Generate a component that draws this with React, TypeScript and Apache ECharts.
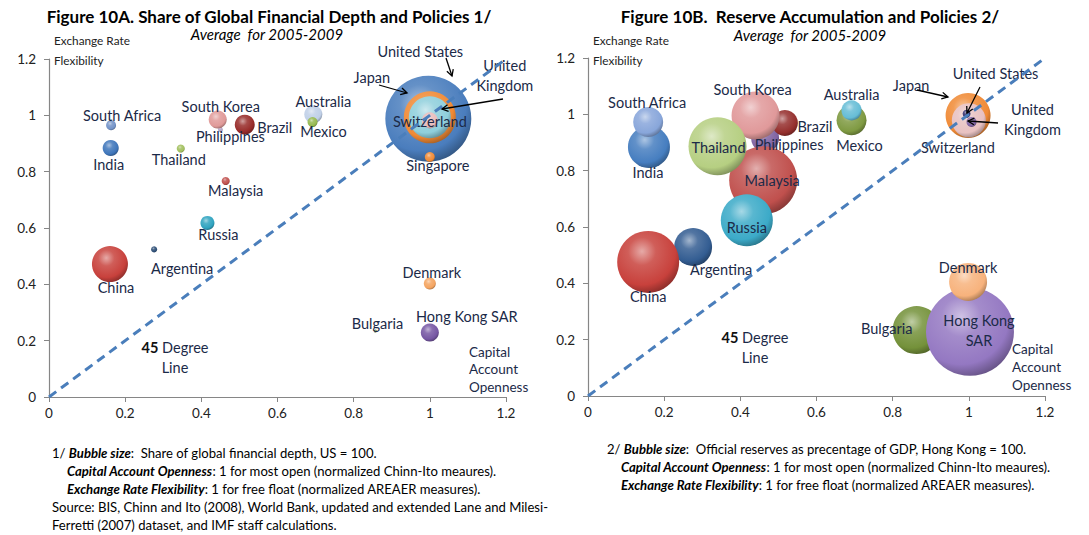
import React, { useEffect, useRef } from "react";
import * as echarts from "echarts";

// ---------- Figure 10A data ----------
const countriesA = ["United States", "Japan", "United Kingdom", "Switzerland", "Singapore", "South Africa", "India", "Thailand", "Philippines", "South Korea", "Brazil", "Malaysia", "Australia", "Mexico", "Russia", "Argentina", "China", "Denmark", "Bulgaria", "Hong Kong SAR"];
const opennessA = [0.996, 1.0, 1.0, 1.0, 1.0, 0.163, 0.162, 0.346, 0.45, 0.443, 0.514, 0.464, 0.694, 0.692, 0.416, 0.276, 0.16, 1.0, 0.857, 1.0];
const flexibilityA = [0.988, 0.993, 0.993, 0.982, 0.852, 0.965, 0.884, 0.882, 0.95, 0.985, 0.967, 0.767, 1.004, 0.976, 0.618, 0.524, 0.472, 0.403, 0.234, 0.229];
const depthA = [100, 36.6, 23.9, 3.5, 1.35, 1.35, 3.5, 0.87, 0.3, 4.4, 5.4, 0.87, 4.4, 1.35, 2.65, 0.5, 17.5, 1.95, 0.12, 4.4];

// ---------- Figure 10B data ----------
const countriesB = ["India", "South Africa", "Philippines", "Brazil", "South Korea", "Malaysia", "Thailand", "Russia", "Argentina", "China", "Mexico", "Australia", "Japan", "Switzerland", "United States", "United Kingdom", "Bulgaria", "Hong Kong SAR", "Denmark"];
const opennessB = [0.16, 0.158, 0.465, 0.517, 0.44, 0.46, 0.34, 0.417, 0.276, 0.158, 0.692, 0.692, 0.998, 1.0, 0.994, 1.007, 0.863, 1.003, 0.998];
const flexibilityB = [0.884, 0.973, 0.915, 0.969, 0.996, 0.766, 0.887, 0.624, 0.529, 0.476, 0.979, 1.014, 0.996, 0.979, 1.002, 0.973, 0.234, 0.228, 0.405];
const reservesB = [22.8, 11.6, 10.1, 8.7, 29.8, 59.7, 43.4, 34.9, 18.6, 49.6, 11.6, 5.2, 26.1, 14.9, 0.8, 1.3, 29.8, 100, 18.6];

const axisTicks = [0, 0.2, 0.4, 0.6, 0.8, 1, 1.2];
const diagonal = [[0, 0], [1.2, 1.2]];

// ---------- styles ----------
const colorsA: Record<string, string> = {
  "United States": "#4a7dbd", Japan: "#f08a36", "United Kingdom": "#8fcfdc", Switzerland: "#e8bcbc",
  Singapore: "#f08a36", "South Africa": "#7393c8", India: "#3f76bb", Thailand: "#a2c05e",
  Philippines: "#b3a2c7", "South Korea": "#e09a99", Brazil: "#982b29", Malaysia: "#c0504d",
  Australia: "#c0d0e8", Mexico: "#95b84f", Russia: "#2fa3c0", Argentina: "#2c4d75",
  China: "#c8413c", Denmark: "#f4a460", Bulgaria: "#77933c", "Hong Kong SAR": "#7657a3",
};
const colorsB: Record<string, string> = {
  India: "#467ec0", "South Africa": "#88a6da", Philippines: "#8064a2", Brazil: "#952f2d",
  "South Korea": "#e0999a", Malaysia: "#c0504d", Thailand: "#b6cf82", Russia: "#3caac8",
  Argentina: "#335d92", China: "#c8413c", Mexico: "#7f9a42", Australia: "#66bdd6",
  Japan: "#f08a36", Switzerland: "#e8c1c1", "United States": "#35306e", "United Kingdom": "#8064a2",
  Bulgaria: "#74913a", "Hong Kong SAR": "#9478c2", Denmark: "#f7b27c",
};
const labelOffsetA: Record<string, [number, number]> = {
  "United States": [-8, -67], Japan: [-58, -40], "United Kingdom": [75, -42], Switzerland: [0, 1],
  Singapore: [8, 8], "South Africa": [11, -10], India: [-2, 16], Thailand: [-2, 11],
  Philippines: [10, 7], "South Korea": [3, -13], Brazil: [30, 3], Malaysia: [10, 10],
  Australia: [10, -13], Mexico: [11, 9], Russia: [11, 12], Argentina: [28, 19],
  China: [6, 23], Denmark: [2, -11], Bulgaria: [2, -8], "Hong Kong SAR": [37, -16],
};
const labelOffsetB: Record<string, [number, number]> = {
  India: [-1, 25], "South Africa": [-1, -19], Philippines: [24, 6], Brazil: [30, 3],
  "South Korea": [-3, -26], Malaysia: [9, 0], Thailand: [1, 1], Russia: [0, 7],
  Argentina: [28, 23], China: [0, 35], Mexico: [8, 25], Australia: [0, -16],
  Japan: [-57, -30], Switzerland: [-11, 27], "United States": [29, -40], "United Kingdom": [61, -2],
  Bulgaria: [-30, -2], "Hong Kong SAR": [9, -1], Denmark: [0, -14],
};
const labelTextA: Record<string, string> = { "United Kingdom": "United\nKingdom" };
const labelTextB: Record<string, string> = { "United Kingdom": "United\nKingdom", "Hong Kong SAR": "Hong Kong\nSAR" };

const FONT = 'Lato, "Open Sans", sans-serif';
const LABEL_COLOR = "#1b2a48";

function mix(hex: string, other: string, t: number) {
  const a = parseInt(hex.slice(1), 16);
  const b = parseInt(other.slice(1), 16);
  const ch = (v: number, s: number) => (v >> s) & 255;
  const c = [16, 8, 0].map((s) => Math.round(ch(a, s) * (1 - t) + ch(b, s) * t));
  return "#" + c.map((v) => v.toString(16).padStart(2, "0")).join("");
}
function ball(hex: string) {
  return {
    type: "radial", x: 0.4, y: 0.33, r: 0.75,
    colorStops: [
      { offset: 0, color: mix(hex, "#ffffff", 0.55) },
      { offset: 0.3, color: mix(hex, "#ffffff", 0.15) },
      { offset: 0.72, color: hex },
      { offset: 1, color: mix(hex, "#000000", 0.4) },
    ],
  };
}

function buildData(names: string[], xs: number[], ys: number[], ss: number[], colors: Record<string, string>, offs: Record<string, [number, number]>, texts: Record<string, string>) {
  return names.map((n, i) => ({
    name: n,
    value: [xs[i], ys[i], ss[i]],
    itemStyle: { color: ball(colors[n]), opacity: 1 },
    label: {
      show: true, position: "inside", offset: offs[n], formatter: texts[n] || n,
      color: LABEL_COLOR, fontSize: 14.5, fontFamily: FONT, lineHeight: 20,
      textBorderWidth: 0, opacity: 1,
    },
  }));
}

function arrow(x1: number, y1: number, x2: number, y2: number) {
  const a = Math.atan2(y2 - y1, x2 - x1);
  const L = 7, w = 0.5;
  const p1 = [x2 - L * Math.cos(a - w), y2 - L * Math.sin(a - w)];
  const p2 = [x2 - L * Math.cos(a + w), y2 - L * Math.sin(a + w)];
  return [
    { type: "line", z: 100, shape: { x1, y1, x2, y2 }, style: { stroke: "#000", lineWidth: 1.3 } },
    { type: "polyline", z: 100, shape: { points: [p1, [x2, y2], p2] }, style: { stroke: "#000", lineWidth: 1.3, fill: null } },
  ];
}

function txt(x: number, y: number, text: string, opts: any = {}) {
  return {
    type: "text", x, y, z: 100,
    style: {
      text, fill: opts.fill || LABEL_COLOR, font: opts.font || `14.5px ${FONT}`,
      align: opts.align || "left", verticalAlign: "middle", lineHeight: opts.lineHeight || 18,
      rich: opts.rich,
    },
  };
}

const FOOT = 13.1;
const footRich = {
  n: { font: `${FOOT}px ${FONT}`, fill: "#000" },
  bi: { font: `italic bold ${FOOT}px ${FONT}`, fill: "#000" },
};

function axisPair(gridIndex: number) {
  const common = {
    gridIndex, type: "value", min: 0, max: 1.2, interval: 0.2,
    axisLine: { show: true, lineStyle: { color: "#868686", width: 1.2 } },
    axisTick: { show: true, length: 5, lineStyle: { color: "#868686" } },
    splitLine: { show: false },
    axisLabel: { color: "#222", fontSize: 13.5, fontFamily: FONT, formatter: (v: number) => String(axisTicks.find((t) => Math.abs(t - v) < 1e-6) ?? v) },
  };
  return {
    x: { ...common, axisLabel: { ...common.axisLabel, margin: 9 } },
    y: { ...common, axisLabel: { ...common.axisLabel, margin: 13 } },
  };
}

export default function App() {
  const ref = useRef<HTMLDivElement>(null);
  useEffect(() => {
    document.body.style.margin = "0";
    const chart = echarts.init(ref.current!, null, { renderer: "svg" });
    const a0 = axisPair(0), a1 = axisPair(1);
    const RA = 43, RB = 44;
    chart.setOption({
      animation: false,
      textStyle: { fontFamily: FONT },
      grid: [
        { left: 49, top: 59, width: 457, height: 338 },
        { left: 588, top: 58, width: 457, height: 338 },
      ],
      xAxis: [a0.x, a1.x],
      yAxis: [a0.y, a1.y],
      series: [
        {
          type: "scatter", xAxisIndex: 0, yAxisIndex: 0, z: 2,
          symbolSize: (v: number[]) => 2 * RA * Math.sqrt(v[2] / 100),
          data: buildData(countriesA, opennessA, flexibilityA, depthA, colorsA, labelOffsetA, labelTextA),
        },
        {
          type: "line", xAxisIndex: 0, yAxisIndex: 0, z: 3, symbol: "none", data: diagonal,
          lineStyle: { color: "#4a7ebb", width: 3, type: [9, 6] },
        },
        {
          type: "scatter", xAxisIndex: 1, yAxisIndex: 1, z: 2,
          symbolSize: (v: number[]) => 2 * RB * Math.sqrt(v[2] / 100),
          data: buildData(countriesB, opennessB, flexibilityB, reservesB, colorsB, labelOffsetB, labelTextB),
        },
        {
          type: "line", xAxisIndex: 1, yAxisIndex: 1, z: 3, symbol: "none", data: diagonal,
          lineStyle: { color: "#4a7ebb", width: 3, type: [9, 6] },
        },
      ],
      graphic: [
        txt(269, 16, "Figure 10A. Share of Global Financial Depth and Policies 1/", { font: `bold 17px ${FONT}`, fill: "#000", align: "center" }),
        txt(267, 34, "Average  for 2005-2009", { font: `italic 15px ${FONT}`, fill: "#000", align: "center" }),
        txt(810, 16, "Figure 10B.  Reserve Accumulation and Policies 2/", { font: `bold 17px ${FONT}`, fill: "#000", align: "center" }),
        txt(810, 35, "Average  for 2005-2009", { font: `italic 15px ${FONT}`, fill: "#000", align: "center" }),
        // axis titles and notes, chart A
        txt(54, 50, "Exchange Rate\nFlexibility", { font: `11.8px ${FONT}`, fill: "#222", lineHeight: 20 }),
        txt(469, 369, "Capital\nAccount\nOpenness", { font: `13.5px ${FONT}`, lineHeight: 17.5 }),
        txt(175, 357, "{b|45} Degree\nLine", { align: "center", lineHeight: 20, rich: { b: { font: `bold 14.5px ${FONT}`, fill: "#111" } } }),
        // chart B
        txt(593, 50, "Exchange Rate\nFlexibility", { font: `11.8px ${FONT}`, fill: "#222", lineHeight: 20 }),
        txt(1012, 367, "Capital\nAccount\nOpenness", { font: `13.5px ${FONT}`, lineHeight: 18 }),
        txt(755, 347, "{b|45} Degree\nLine", { align: "center", lineHeight: 20, rich: { b: { font: `bold 14.5px ${FONT}`, fill: "#111" } } }),
        // arrows
        ...arrow(446, 58, 452, 76),
        ...arrow(379, 85, 407, 93),
        ...arrow(503, 99, 442, 109),
        ...arrow(917, 90, 948, 97),
        ...arrow(980, 87, 967, 113),
        ...arrow(998, 123, 968, 121),
        // footnotes
        txt(52, 453, "{n|1/ }{bi|Bubble size}{n|:  Share of global financial depth, US = 100.}", { rich: footRich }),
        txt(67, 471, "{bi|Capital Account Openness}{n|: 1 for most open (normalized Chinn-Ito meaures).}", { rich: footRich }),
        txt(67, 489, "{bi|Exchange Rate Flexibility}{n|: 1 for free float (normalized AREAER measures).}", { rich: footRich }),
        txt(52, 507, "Source: BIS, Chinn and Ito (2008), World Bank, updated and extended Lane and Milesi-", { font: `${FOOT}px ${FONT}`, fill: "#000" }),
        txt(52, 525, "Ferretti (2007) dataset, and IMF staff calculations.", { font: `${FOOT}px ${FONT}`, fill: "#000" }),
        txt(607, 449, "{n|2/ }{bi|Bubble size}{n|:  Official reserves as precentage of GDP, Hong Kong = 100.}", { rich: footRich }),
        txt(621, 467, "{bi|Capital Account Openness}{n|: 1 for most open (normalized Chinn-Ito meaures).}", { rich: footRich }),
        txt(621, 485, "{bi|Exchange Rate Flexibility}{n|: 1 for free float (normalized AREAER measures).}", { rich: footRich }),
      ],
    });
    return () => chart.dispose();
  }, []);
  return <div ref={ref} style={{ width: 1089, height: 535 }} />;
}
